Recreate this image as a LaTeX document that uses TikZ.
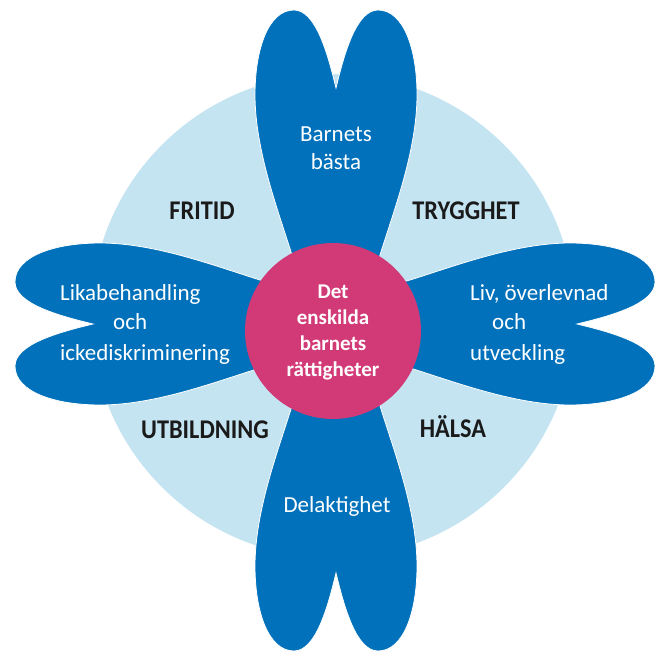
\documentclass[tikz,border=0pt]{standalone}
\usepackage{fontspec}
\setmainfont{Carlito}
\newfontfamily\labfont[FakeStretch=0.9]{Carlito}
\definecolor{petalblue}{HTML}{0071BA}
\definecolor{ringblue}{HTML}{C4E4F2}
\definecolor{centerpink}{HTML}{D23A77}
\definecolor{labelink}{HTML}{1A1A1A}
\tikzset{
  petal/.style={fill=petalblue, draw=white, line width=0.8pt},
  petaltext/.style={text=white, inner sep=0pt, font=\fontsize{23}{28}\selectfont},
  centertext/.style={text=white, inner sep=0pt, font=\fontsize{21}{26}\selectfont\bfseries},
  areatext/.style={text=labelink, inner sep=0pt, font=\labfont\fontsize{27}{30}\selectfont\bfseries}
}
\newcommand{\petalpath}{%
  (0,-242) .. controls (8,-275) and (20,-320) .. (42,-320)
  .. controls (68,-320) and (81,-280) .. (81,-235)
  .. controls (81,-180) and (58,-120) .. (44,-75)
  .. controls (37,-50) and (32,-20) .. (32,0)
  -- (-32,0)
  .. controls (-32,-20) and (-37,-50) .. (-44,-75)
  .. controls (-58,-120) and (-81,-180) .. (-81,-235)
  .. controls (-81,-280) and (-68,-320) .. (-42,-320)
  .. controls (-20,-320) and (-8,-275) .. (0,-242) -- cycle}
\begin{document}
\begin{tikzpicture}[x=1pt,y=-1pt]
\useasboundingbox (0,0) rectangle (662,655);
% background ring
\fill[ringblue] (333,316) circle (242pt);
% petals
\begin{scope}[shift={(336,330)}]
  \path[petal] \petalpath;
\end{scope}
\begin{scope}[shift={(336,331)}, rotate=180]
  \path[petal] \petalpath;
\end{scope}
\begin{scope}[shift={(335,324)}, rotate=90]
  \path[petal] \petalpath;
\end{scope}
\begin{scope}[shift={(335,324)}, rotate=-90]
  \path[petal] \petalpath;
\end{scope}
% centre
\node[circle, fill=centerpink, minimum size=176pt, inner sep=0pt] (hub) at (333,331) {};
\node[centertext, anchor=base] (c1) at (333,299) {Det};
\node[centertext, anchor=base] (c2) at (333,325) {enskilda};
\node[centertext, anchor=base] (c3) at (333,351) {barnets};
\node[centertext, anchor=base] (c4) at (333,377) {rättigheter};
% petal texts
\node[petaltext, anchor=base] (t1) at (336,142) {Barnets};
\node[petaltext, anchor=base] (t2) at (336,170) {bästa};
\node[petaltext, anchor=base] (b1) at (337,512) {Delaktighet};
\node[petaltext, anchor=base west] (l1) at (60,301) {Likabehandling};
\node[petaltext, anchor=base west] (l2) at (113,330) {och};
\node[petaltext, anchor=base west] (l3) at (60,360) {ickediskriminering};
\node[petaltext, anchor=base west] (r1) at (470,301) {Liv, överlevnad};
\node[petaltext, anchor=base west] (r2) at (492,330) {och};
\node[petaltext, anchor=base west] (r3) at (470,360) {utveckling};
% area labels
\node[areatext, anchor=base] (fritid) at (202,220) {FRITID};
\node[areatext, anchor=base] (trygghet) at (466,220) {TRYGGHET};
\node[areatext, anchor=base] (utbildning) at (205,438) {UTBILDNING};
\node[areatext, anchor=base] (halsa) at (453,437) {HÄLSA};
\end{tikzpicture}
\end{document}
